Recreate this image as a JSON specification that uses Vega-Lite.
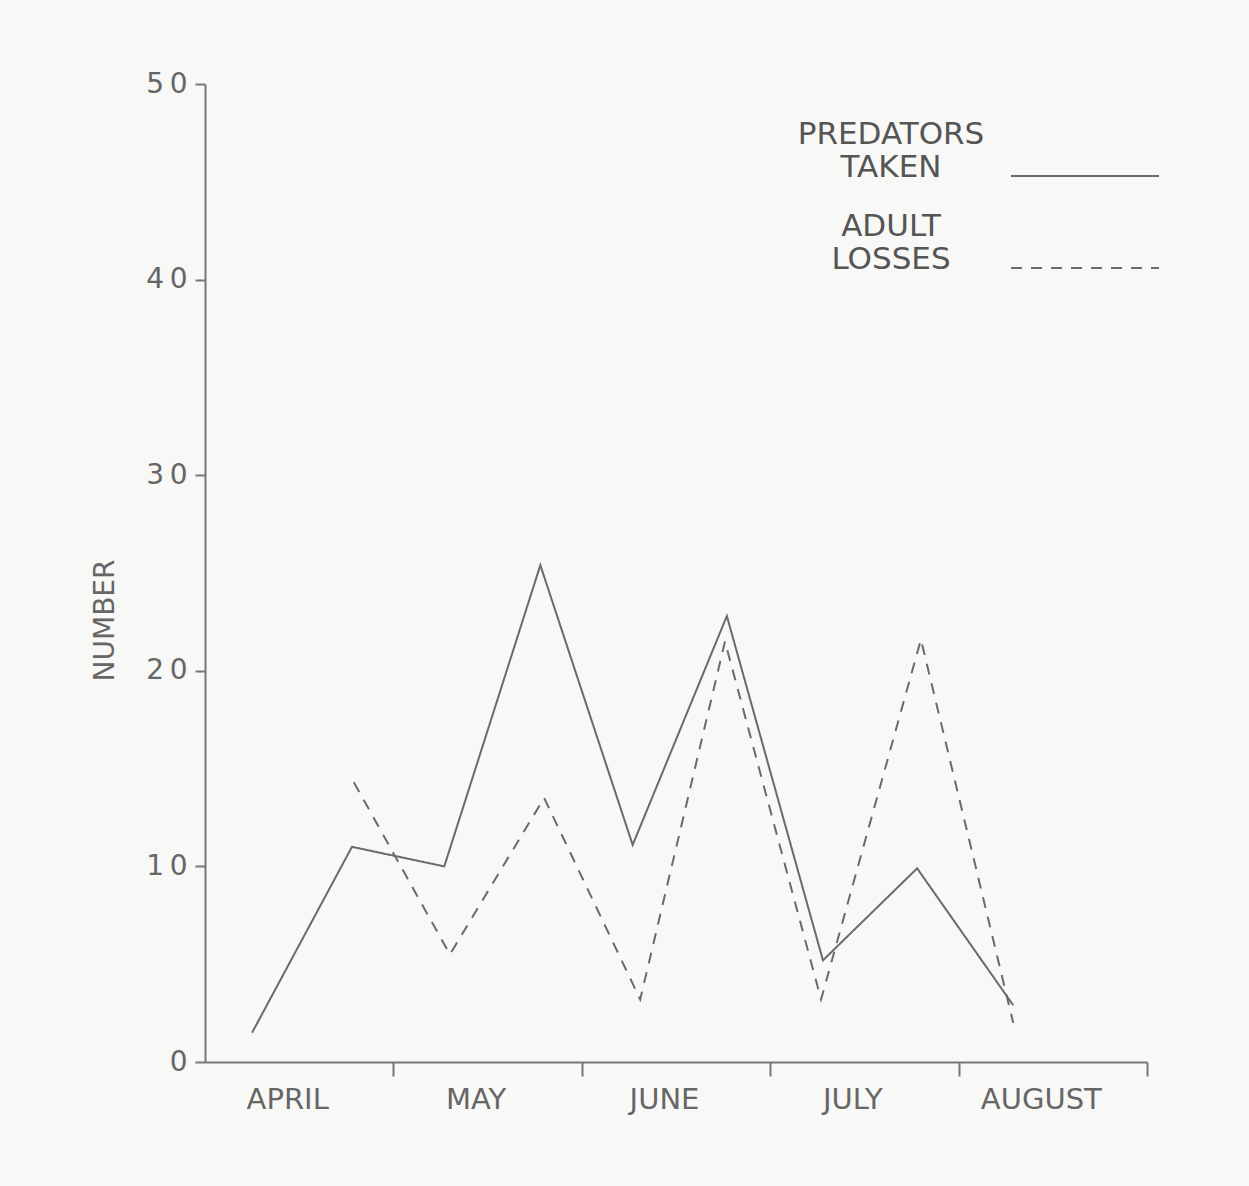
{
  "$schema": "https://vega.github.io/schema/vega-lite/v6.json",
  "width": 942,
  "height": 978,
  "autosize": {"type": "none"},
  "padding": {"left": 205, "top": 84, "right": 102, "bottom": 124},
  "background": "#f8f8f6",
  "config": {
    "view": {"stroke": null},
    "font": "DejaVu Sans",
    "axis": {"grid": false, "domainColor": "#777777", "domainWidth": 2, "tickColor": "#777777", "tickWidth": 2, "labelColor": "#666666", "titleColor": "#666666", "labelFont": "DejaVu Sans", "titleFont": "DejaVu Sans", "labelFontWeight": "normal", "titleFontWeight": "normal"}
  },
  "data": {
    "values": [
      {"month": 4.25, "number": 1.5, "series": "Predators taken"},
      {"month": 4.78, "number": 11.0, "series": "Predators taken"},
      {"month": 5.27, "number": 10.0, "series": "Predators taken"},
      {"month": 5.78, "number": 25.4, "series": "Predators taken"},
      {"month": 6.27, "number": 11.1, "series": "Predators taken"},
      {"month": 6.77, "number": 22.8, "series": "Predators taken"},
      {"month": 7.28, "number": 5.2, "series": "Predators taken"},
      {"month": 7.78, "number": 9.9, "series": "Predators taken"},
      {"month": 8.29, "number": 2.9, "series": "Predators taken"},
      {"month": 4.79, "number": 14.3, "series": "Adult losses"},
      {"month": 5.30, "number": 5.5, "series": "Adult losses"},
      {"month": 5.80, "number": 13.5, "series": "Adult losses"},
      {"month": 6.31, "number": 3.2, "series": "Adult losses"},
      {"month": 6.76, "number": 21.5, "series": "Adult losses"},
      {"month": 7.27, "number": 3.2, "series": "Adult losses"},
      {"month": 7.80, "number": 21.6, "series": "Adult losses"},
      {"month": 8.29, "number": 2.0, "series": "Adult losses"}
    ]
  },
  "mark": {"type": "line", "stroke": "#6a6a6a", "strokeWidth": 2},
  "encoding": {
    "x": {
      "field": "month",
      "type": "quantitative",
      "scale": {"domain": [4, 9], "nice": false, "zero": false},
      "axis": {
        "title": null,
        "values": [4.5, 5, 5.5, 6, 6.5, 7, 7.5, 8, 8.5, 9],
        "labelExpr": "datum.value == 4.5 ? 'APRIL' : datum.value == 5.5 ? 'MAY' : datum.value == 6.5 ? 'JUNE' : datum.value == 7.5 ? 'JULY' : datum.value == 8.5 ? 'AUGUST' : ''",
        "tickOpacity": {"condition": {"test": "datum.value % 1 == 0", "value": 1}, "value": 0},
        "tickSize": 14,
        "labelPadding": 9,
        "labelFontSize": 29,
        "labelOffset": -12,
        "labelOverlap": false,
        "labelFlush": false
      }
    },
    "y": {
      "field": "number",
      "type": "quantitative",
      "scale": {"domain": [0, 50], "nice": false},
      "axis": {
        "title": "NUMBER",
        "values": [0, 10, 20, 30, 40, 50],
        "tickSize": 10,
        "labelPadding": 8,
        "labelFontSize": 28,
        "labelExpr": "datum.value == 0 ? '0' : format(datum.value / 10, 'd') + '\u2009' + '0'",
        "titleFontSize": 28,
        "titleX": -100,
        "titleY": 536,
        "titleAngle": -90,
        "titleAlign": "center",
        "titleBaseline": "middle"
      }
    },
    "strokeDash": {
      "field": "series",
      "type": "nominal",
      "scale": {"domain": ["Predators taken", "Adult losses"], "range": [[1, 0], [11, 9]]},
      "legend": {
        "title": null,
        "orient": "none",
        "legendX": 805,
        "legendY": 17,
        "symbolType": "stroke",
        "symbolSize": 21904,
        "symbolStrokeColor": "#6a6a6a",
        "symbolStrokeWidth": 2,
        "labelAlign": "center",
        "labelBaseline": "middle",
        "labelOffset": -269,
        "labelFontSize": 31,
        "labelColor": "#555555",
        "labelLimit": 500,
        "rowPadding": 10,
        "labelExpr": "datum.label == 'Predators taken' ? ['PREDATORS', 'TAKEN'] : ['ADULT', 'LOSSES']",
        "encoding": {"labels": {"dy": {"value": -41}}}
      }
    }
  }
}
